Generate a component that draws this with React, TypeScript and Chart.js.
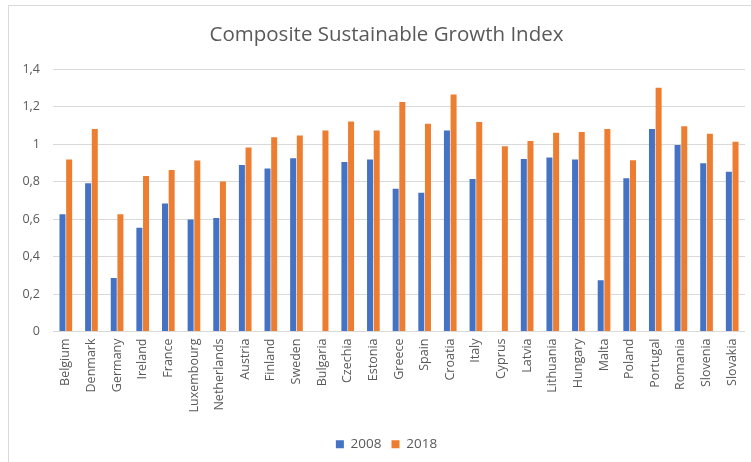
import React, { useEffect, useRef } from "react";
import { Chart, registerables } from "chart.js";

Chart.register(...registerables);

const countries = [
  "Belgium", "Denmark", "Germany", "Ireland", "France", "Luxembourg", "Netherlands",
  "Austria", "Finland", "Sweden", "Bulgaria", "Czechia", "Estonia", "Greece", "Spain",
  "Croatia", "Italy", "Cyprus", "Latvia", "Lithuania", "Hungary", "Malta", "Poland",
  "Portugal", "Romania", "Slovenia", "Slovakia",
];

const values2008: (number | null)[] = [
  0.626, 0.791, 0.285, 0.553, 0.683, 0.597, 0.606,
  0.888, 0.870, 0.925, null, 0.904, 0.918, 0.761, 0.740,
  1.073, 0.813, null, 0.920, 0.929, 0.918, 0.273, 0.818,
  1.080, 0.995, 0.898, 0.852,
];

const values2018: number[] = [
  0.918, 1.080, 0.626, 0.829, 0.861, 0.913, 0.800,
  0.982, 1.037, 1.046, 1.073, 1.121, 1.073, 1.225, 1.109,
  1.264, 1.118, 0.989, 1.016, 1.060, 1.064, 1.080, 0.914,
  1.301, 1.095, 1.055, 1.012,
];

const seriesNames = ["2008", "2018"];
const titleText = "Composite Sustainable Growth Index";
const yMax = 1.4;
const yStep = 0.2;

export default function App() {
  const ref = useRef<HTMLCanvasElement>(null);

  useEffect(() => {
    if (!ref.current) return;
    const textColor = "#595959";
    const family = "'Open Sans'";
    const chart = new Chart(ref.current, {
      type: "bar",
      data: {
        labels: countries,
        datasets: [
          {
            label: seriesNames[0],
            data: values2008,
            backgroundColor: "#4472C4",
            categoryPercentage: 0.52,
            barPercentage: 0.9,
          },
          {
            label: seriesNames[1],
            data: values2018,
            backgroundColor: "#ED7D31",
            categoryPercentage: 0.52,
            barPercentage: 0.9,
          },
        ],
      },
      options: {
        responsive: false,
        animation: false,
        layout: { padding: { left: 0, right: 0, top: 0, bottom: 1 } },
        plugins: {
          title: {
            display: true,
            text: titleText,
            color: textColor,
            font: { family, size: 20.5, weight: "normal" },
            padding: { top: 17, bottom: 21.5 },
          },
          legend: {
            position: "bottom",
            labels: {
              color: textColor,
              font: { family, size: 13.5 },
              boxWidth: 8,
              boxHeight: 8,
              padding: 10,
            },
          },
          tooltip: { enabled: false },
        },
        scales: {
          x: {
            grid: { display: false, drawTicks: false },
            border: { display: false },
            ticks: {
              color: textColor,
              font: { family, size: 12.5 },
              minRotation: 90,
              maxRotation: 90,
              autoSkip: false,
              padding: 7,
            },
            afterFit: (scale: any) => {
              scale.height = 96;
            },
          },
          y: {
            min: 0,
            max: yMax,
            grid: { color: "#d9d9d9", drawTicks: false, lineWidth: 1 },
            border: { display: false },
            ticks: {
              stepSize: yStep,
              color: textColor,
              font: { family, size: 12.5 },
              padding: 13,
              callback: (v: any) => String(Number(Number(v).toFixed(1))).replace(".", ","),
            },
            afterFit: (scale: any) => {
              scale.width = 44;
            },
          },
          spacer: {
            type: "linear",
            position: "right",
            display: true,
            min: 0,
            max: yMax,
            grid: { display: false, drawTicks: false },
            border: { display: false },
            ticks: { display: false },
            afterFit: (scale: any) => {
              scale.width = 19;
            },
          },
        },
      },
    });
    return () => chart.destroy();
  }, []);

  return (
    <div
      style={{
        position: "fixed",
        left: 8,
        top: 5,
        width: 755,
        height: 456,
        borderTop: "1px solid #d9d9d9",
        borderLeft: "1px solid #d9d9d9",
        background: "#fff",
      }}
    >
      <canvas ref={ref} width={755} height={456} style={{ display: "block" }} />
    </div>
  );
}
